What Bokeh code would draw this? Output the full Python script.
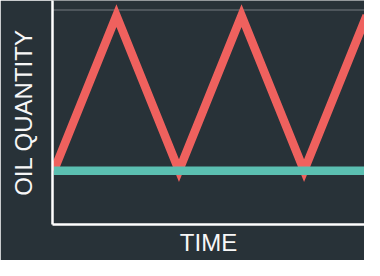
from bokeh.plotting import figure
from bokeh.models import Range1d, Span, FixedTicker
from bokeh.embed import file_html
from bokeh.resources import INLINE

# Data
time = [0, 0.5, 1, 1.5, 2, 2.5]
oil_quantity = [0, 1, 0, 1, 0, 1]
reserve_level = [0, 0, 0, 0, 0, 0]
x_label = "TIME"
y_label = "OIL QUANTITY"

BG = "#283238"
RED = "#ef615e"
TEAL = "#5bbfb1"
AXIS = "#ffffff"
GRAY = "#5b6368"

p = figure(width=364, height=260, output_backend="svg", toolbar_location=None,
           x_range=Range1d(-0.011, 2.483), y_range=Range1d(-0.347, 1.0975),
           min_border_left=52, min_border_right=0, min_border_top=0, min_border_bottom=36)
p.background_fill_color = BG
p.border_fill_color = BG
p.outline_line_color = None
p.xgrid.visible = False
p.ygrid.visible = False

top_line = Span(location=1.0368, dimension="width", line_color=GRAY, line_width=1.5, level="underlay")
p.add_layout(top_line)

p.line(time, oil_quantity, line_color=RED, line_width=8.5, line_join="miter")
p.line(time, reserve_level, line_color=TEAL, line_width=8.5)

for ax in (p.xaxis[0], p.yaxis[0]):
    ax.ticker = FixedTicker(ticks=[])
    ax.axis_line_color = AXIS
    ax.axis_line_width = 2.5
    ax.major_tick_line_color = None
    ax.minor_tick_line_color = None
    ax.major_label_text_color = None
    ax.axis_label_text_color = "#f7f7f7"
    ax.axis_label_text_font = "Liberation Sans"
    ax.axis_label_text_font_style = "normal"
    ax.axis_label_text_font_size = "24px"

p.xaxis.axis_label = x_label
p.yaxis.axis_label = y_label
p.xaxis.axis_label_standoff = 4
p.yaxis.axis_label_standoff = 16

open("out.html", "w").write(file_html(p, INLINE))
